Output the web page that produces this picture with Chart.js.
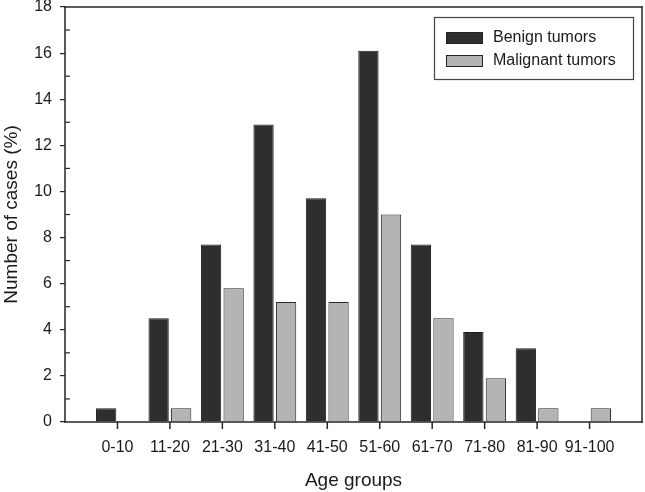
<!DOCTYPE html>
<html>
<head>
<meta charset="utf-8">
<script src="https://cdn.jsdelivr.net/npm/chart.js@4.4.1/dist/chart.umd.min.js"></script>
<style>
  html, body { margin: 0; padding: 0; background: #fff; }
  #wrap { width: 645px; height: 492px; }
</style>
</head>
<body>
<div id="wrap"><canvas id="ageChart"></canvas></div>
<script>
// Age groups and percentages
const ageGroups = ['0-10', '11-20', '21-30', '31-40', '41-50', '51-60', '61-70', '71-80', '81-90', '91-100'];
const benign = [0.6, 4.5, 7.7, 12.9, 9.7, 16.1, 7.7, 3.9, 3.2, 0];
const malignant = [0, 0.6, 5.8, 5.2, 5.2, 9.0, 4.5, 1.9, 0.6, 0.6];
const yTicks = [0, 2, 4, 6, 8, 10, 12, 14, 16, 18];

const axisColor = '#262626';
const font = 'Liberation Sans, Arial, sans-serif';

// one empty slot either side so the groups sit like the original
const labels = [''].concat(ageGroups, ['']);
const pad = arr => [null].concat(arr, [null]);

// frame, tick marks and boxed legend (filled rects, so no line dash state can hide them)
const framePlugin = {
  id: 'frame',
  afterDraw(chart) {
    const ctx = chart.ctx;
    const a = chart.chartArea;
    const x = chart.scales.x;
    const y = chart.scales.y;
    const w = a.right - a.left, h = a.bottom - a.top;
    ctx.save();
    ctx.setLineDash([]);
    ctx.globalAlpha = 1;
    ctx.fillStyle = axisColor;
    ctx.fillRect(a.left - 0.75, a.top - 0.75, w + 1.5, 1.5);
    ctx.fillRect(a.left - 0.75, a.bottom - 0.75, w + 1.5, 1.5);
    ctx.fillRect(a.left - 0.75, a.top - 0.75, 1.5, h + 1.5);
    ctx.fillRect(a.right - 0.75, a.top - 0.75, 1.5, h + 1.5);

    // minor ticks inside the y axis
    for (let v = 1; v < 18; v += 2) {
      const py = y.getPixelForValue(v);
      ctx.fillRect(a.left, py - 0.6, 5, 1.2);
    }

    // x ticks below the axis, at the group centres
    ageGroups.forEach((g, i) => {
      const px = x.getPixelForValue(i + 1);
      ctx.fillRect(px - 0.75, a.bottom, 1.5, 7);
    });

    // legend box
    const bx = a.right - 208, by = a.top + 10, bw = 199, bh = 62;
    ctx.lineWidth = 1.2;
    ctx.strokeStyle = '#444';
    ctx.strokeRect(bx + 0.5, by + 0.5, bw, bh);
    ctx.font = '16px ' + font;
    ctx.textBaseline = 'middle';
    chart.data.datasets.forEach((ds, i) => {
      const ry = by + 21 + i * 23;
      ctx.fillStyle = ds.backgroundColor;
      ctx.fillRect(bx + 12, ry - 6, 37, 12);
      ctx.strokeStyle = '#222';
      ctx.lineWidth = 1;
      ctx.strokeRect(bx + 12.5, ry - 5.5, 36, 11);
      ctx.fillStyle = '#1a1a1a';
      ctx.fillText(ds.label, bx + 59, ry);
    });
    ctx.restore();
  }
};

const barData = {
  labels: labels,
  datasets: [{
    label: 'Benign tumors',
    backgroundColor: '#2e2e2e',
    borderColor: '#1e1e1e',
    borderWidth: 1,
    data: pad(benign)
  },
  {
    label: 'Malignant tumors',
    backgroundColor: '#b4b4b4',
    borderColor: '#2a2a2a',
    borderWidth: 1,
    data: pad(malignant)
  }]
};

const configBar = {
  type: 'bar',
  data: barData,
  options: {
    responsive: true,
    maintainAspectRatio: false,
    animation: false,
    categoryPercentage: 0.86,
    barPercentage: 0.9,
    layout: { padding: { top: 0, right: 3, left: 0, bottom: 0 } },
    plugins: {
      legend: { display: false },
      tooltip: { enabled: false }
    },
    scales: {
      x: {
        offset: false,
        afterBuildTicks: scale => {
          scale.ticks = scale.ticks.filter(t => t.value > 0 && t.value < labels.length - 1);
        },
        afterFit: scale => {
          scale.height = 70;
          scale.paddingLeft = 0;
          scale.paddingRight = 0;
        },
        border: { display: false },
        grid: { offset: false, drawOnChartArea: false, drawTicks: false },
        ticks: { autoSkip: false, maxRotation: 0, padding: 16, color: '#1a1a1a', font: { family: font, size: 16 } },
        title: { display: true, text: 'Age groups', color: '#1a1a1a', padding: 0, font: { family: font, size: 19 } }
      },
      y: {
        min: 0,
        max: 18,
        afterBuildTicks: scale => {
          scale.ticks = yTicks.map(v => ({ value: v }));
        },
        afterFit: scale => {
          scale.width = 65;
          scale.paddingTop = 7;
          scale.paddingBottom = 0;
        },
        border: { display: false },
        grid: { drawOnChartArea: false, tickLength: 5, color: axisColor, lineWidth: 1.2 },
        ticks: { padding: 8, color: '#1a1a1a', font: { family: font, size: 16 } },
        title: { display: true, text: 'Number of cases (%)', color: '#1a1a1a', padding: 0, font: { family: font, size: 19 } }
      }
    }
  },
  plugins: [framePlugin]
};

var ageChart = document.getElementById('ageChart');
let chart1 = new Chart(ageChart, configBar);
</script>
</body>
</html>
